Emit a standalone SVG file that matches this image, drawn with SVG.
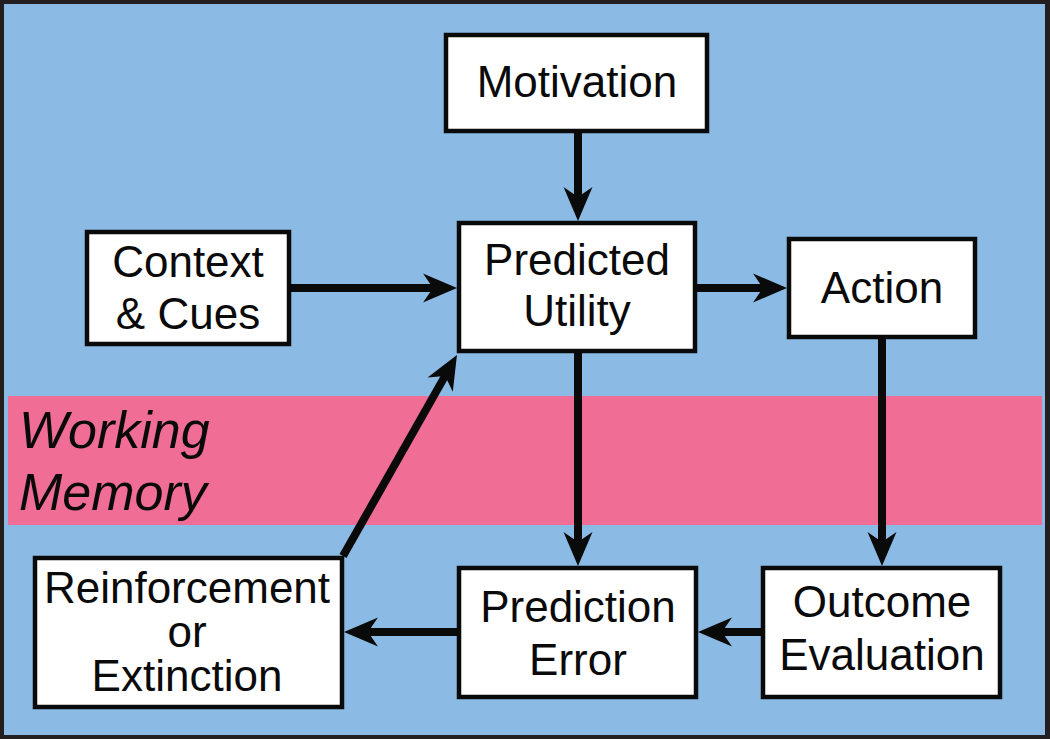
<svg xmlns="http://www.w3.org/2000/svg" width="1050" height="739" viewBox="0 0 1050 739">
<style>
.box{fill:#fff;stroke:#0a0a0a;stroke-width:4.5}
.t{font-family:"Liberation Sans",Arial,sans-serif;font-size:44px;fill:#0a0a0a;text-anchor:middle}
.wm{font-family:"Liberation Sans",Arial,sans-serif;font-size:52px;font-style:italic;fill:#0a0a0a}
.c{stroke:#0a0a0a;stroke-width:8;fill:none;marker-end:url(#ah)}
</style>
<defs>
<marker id="ah" markerUnits="userSpaceOnUse" orient="auto" refX="0" refY="0" markerWidth="60" markerHeight="40" viewBox="-20 -20 60 40" overflow="visible">
<path d="M20,0 L-14,-14.5 L-4,0 L-14,14.5 Z" fill="#0a0a0a"/>
</marker>
</defs>
<rect x="0" y="0" width="1050" height="739" fill="#231f20"/>
<rect x="4" y="4" width="1041" height="731" fill="#8bbbe5"/>
<rect id="working-memory-band" x="8" y="396" width="1034" height="129" fill="#f06e96"/>
<g id="working-memory-label">
<text class="wm" x="19" y="448">Working</text>
<text class="wm" x="19" y="510">Memory</text>
</g>
<g id="connectors">
<line class="c" x1="578" y1="133" x2="578" y2="201"/>
<line class="c" x1="290" y1="288" x2="437" y2="288"/>
<line class="c" x1="697" y1="288" x2="767" y2="288"/>
<line class="c" x1="578" y1="353" x2="578" y2="546"/>
<line class="c" x1="882" y1="339" x2="882" y2="546"/>
<line class="c" x1="761" y1="632" x2="718" y2="632"/>
<line class="c" x1="457" y1="632" x2="364" y2="632"/>
<line class="c" x1="343" y1="556" x2="447.1" y2="372.4"/>
</g>
<g id="motivation">
<rect class="box" x="446" y="35" width="261" height="96"/>
<text class="t" x="577" y="97">Motivation</text>
</g>
<g id="context-cues">
<rect class="box" x="87" y="232" width="202" height="112"/>
<text class="t" x="188" y="277">Context</text>
<text class="t" x="188" y="329">&amp; Cues</text>
</g>
<g id="predicted-utility">
<rect class="box" x="459" y="223" width="236" height="128"/>
<text class="t" x="577" y="275">Predicted</text>
<text class="t" x="577" y="326">Utility</text>
</g>
<g id="action">
<rect class="box" x="789" y="239" width="186" height="98"/>
<text class="t" x="882" y="303">Action</text>
</g>
<g id="outcome-evaluation">
<rect class="box" x="763" y="568" width="237" height="129"/>
<text class="t" x="882" y="617">Outcome</text>
<text class="t" x="882" y="670">Evaluation</text>
</g>
<g id="prediction-error">
<rect class="box" x="459" y="568" width="237" height="129"/>
<text class="t" x="578" y="622">Prediction</text>
<text class="t" x="578" y="675">Error</text>
</g>
<g id="reinforcement-extinction">
<rect class="box" x="35" y="558" width="307" height="149"/>
<text class="t" x="187" y="603">Reinforcement</text>
<text class="t" x="187" y="647">or</text>
<text class="t" x="187" y="691">Extinction</text>
</g>
</svg>
